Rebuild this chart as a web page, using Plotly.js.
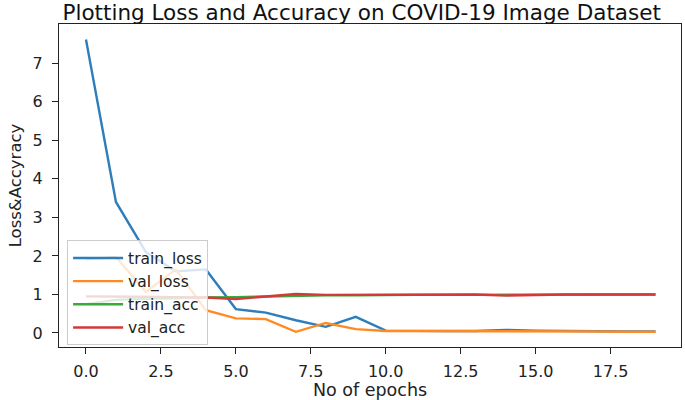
<!DOCTYPE html>
<html>
<head>
<meta charset="utf-8">
<script src="https://cdn.plot.ly/plotly-3.0.1.min.js"></script>
<style>
html,body{margin:0;padding:0;background:#fff;}
#chart{width:685px;height:400px;}
</style>
</head>
<body>
<div id="chart"></div>
<script>
const epochs = [0,1,2,3,4,5,6,7,8,9,10,11,12,13,14,15,16,17,18,19];
const trainLoss = [7.62,3.40,2.10,1.60,1.65,0.62,0.53,0.33,0.16,0.42,0.06,0.05,0.05,0.05,0.08,0.06,0.05,0.05,0.04,0.04];
const valLoss   = [1.91,1.97,1.07,1.65,0.59,0.38,0.36,0.03,0.26,0.10,0.05,0.05,0.05,0.05,0.05,0.05,0.04,0.04,0.03,0.03];
const trainAcc  = [0.75,0.86,0.89,0.91,0.92,0.93,0.95,0.97,0.98,0.98,0.99,0.99,0.99,0.99,0.99,0.99,0.99,1.00,1.00,1.00];
const valAcc    = [0.95,0.95,0.94,0.93,0.92,0.88,0.95,1.01,0.99,0.99,1.00,1.00,1.00,1.00,0.97,0.99,1.00,1.00,1.00,1.00];
const seriesNames = ["train_loss","val_loss","train_acc","val_acc"];
const xTickVals = [0,2.5,5,7.5,10,12.5,15,17.5];
const yTickVals = [0,1,2,3,4,5,6,7];

const colors = ["#2f7ebc","#ff8a24","#3aa83a","#d23a3a"];
const data = [trainLoss,valLoss,trainAcc,valAcc].map((ys,i)=>({
  x: epochs, y: ys, type:"scatter", mode:"lines", name: seriesNames[i],
  line:{color:colors[i], width:2.4}
}));
const font = "DejaVu Sans, sans-serif";
const layout = {
  width:685, height:400,
  margin:{l:59, r:4, t:24, b:53},
  paper_bgcolor:"#fff", plot_bgcolor:"#fff",
  font:{family:font, size:15, color:"#222"},
  title:{text:"Plotting Loss and Accuracy on COVID-19 Image Dataset", font:{family:font,size:21.5,color:"#111"}, x:0.528, xanchor:"center", y:0.97, yanchor:"middle"},
  xaxis:{range:[-0.9,19.85], tickvals:xTickVals, ticktext:xTickVals.map(v=>v.toFixed(1)), showgrid:false, zeroline:false,
    showline:true, mirror:true, linecolor:"#222", linewidth:1.2, ticks:"outside", ticklen:6, tickcolor:"#222",
    ticklabelstandoff:4,
    tickfont:{family:font,size:16,color:"#222"},
    title:{text:"No of epochs", font:{family:font,size:17.5,color:"#222"}, standoff:9}},
  yaxis:{range:[-0.364,8.02], tickvals:yTickVals, showgrid:false, zeroline:false,
    showline:true, mirror:true, linecolor:"#222", linewidth:1.2, ticks:"outside", ticklen:6, tickcolor:"#222",
    ticklabelstandoff:6,
    tickfont:{family:font,size:16,color:"#222"},
    title:{text:"Loss&Accyracy", font:{family:font,size:16.5,color:"#222"}, standoff:6}},
  showlegend:true,
  legend:{x:0.013, y:0.33, xanchor:"left", yanchor:"top", bgcolor:"rgba(255,255,255,0.8)", bordercolor:"#cccccc", borderwidth:1,
    font:{family:font,size:15.5,color:"#222"}, tracegroupgap:0, itemwidth:50}
};
Plotly.newPlot("chart", data, layout, {displayModeBar:false, staticPlot:true});
</script>
</body>
</html>
